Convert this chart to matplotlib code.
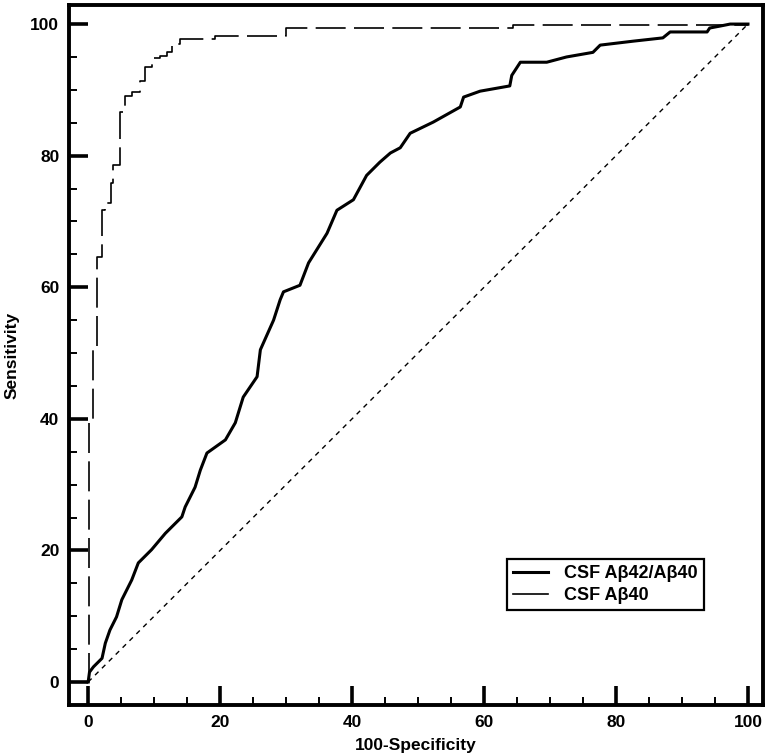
import matplotlib
matplotlib.use('Agg')
import matplotlib.pyplot as plt
from matplotlib.lines import Line2D
from matplotlib.ticker import MultipleLocator

plt.rcParams['font.family'] = ['Liberation Sans Narrow', 'Liberation Sans', 'DejaVu Sans']
plt.rcParams['font.weight'] = 'bold'

# CSF Abeta42/Abeta40 ROC (100-specificity, sensitivity)
ratio_fpr = [0, 0.2, 0.8, 2.1, 2.6, 3.3, 4.3, 5.1, 6.6, 7.6,
             9.6, 11.7, 14.2, 14.7, 16.2, 17.0, 18.0, 20.8, 22.3, 23.5,
             25.6, 26.1, 28.1, 29.1, 29.6, 32.1, 33.4, 36.2, 37.7, 40.2,
             42.2, 44.2, 45.8, 47.3, 48.8, 52.3, 56.4, 56.9, 59.4, 63.9,
             64.2, 65.5, 69.5, 72.5, 76.5, 77.6, 82.6, 87.1, 88.2, 93.8,
             94.2, 95.8, 97.3, 99.2, 100]
ratio_tpr = [0, 1.5, 2.3, 3.6, 5.9, 7.9, 9.9, 12.5, 15.5, 18.1,
             20.1, 22.6, 25.1, 26.6, 29.6, 32.2, 34.8, 36.8, 39.4, 43.3,
             46.4, 50.5, 55.0, 58.1, 59.3, 60.3, 63.7, 68.2, 71.7, 73.3,
             77.0, 79.0, 80.4, 81.2, 83.4, 85.1, 87.4, 88.9, 89.8, 90.6,
             92.2, 94.2, 94.2, 95.0, 95.7, 96.8, 97.4, 97.9, 98.8, 98.8,
             99.4, 99.7, 100, 100, 100]

# CSF Abeta40 ROC, step corners
ab40_fpr = [0, 0.15, 0.8, 1.4, 2.1, 2.6, 3.5, 3.8, 4.9, 5.6, 6.6,
            7.9, 8.6, 9.6, 10.9, 11.9, 12.7, 13.9, 19.2, 30.0, 64.4, 100]
ab40_tpr = [0, 40.0, 51.0, 64.6, 71.8, 72.8, 75.8, 78.6, 86.7, 89.0, 89.7,
            91.4, 93.5, 94.8, 95.1, 95.8, 97.0, 97.7, 98.2, 99.4, 99.8, 100]

ref_line = [0, 100]
labels = ['CSF A\u03b242/A\u03b240', 'CSF A\u03b240']

fig = plt.figure(figsize=(7.67, 7.55), dpi=100)
ax = fig.add_axes([0.090, 0.0662, 0.905, 0.9272])

ax.plot(ratio_fpr, ratio_tpr, color='black', lw=2.2)
ax.step(ab40_fpr, ab40_tpr, where='post', color='black', lw=1.2, dashes=(18, 5))
ax.plot(ref_line, ref_line, color='black', lw=1.0, dashes=(3.5, 3.5))

ax.set_xlim(-2.9, 102.3)
ax.set_ylim(-3.5, 102.9)

ax.xaxis.set_major_locator(MultipleLocator(20))
ax.xaxis.set_minor_locator(MultipleLocator(5))
ax.yaxis.set_major_locator(MultipleLocator(20))
ax.yaxis.set_minor_locator(MultipleLocator(5))
ax.tick_params(which='major', direction='in', length=14, width=2.6,
               labelsize=12.5, pad=7, colors='black')
ax.tick_params(which='minor', direction='in', length=6, width=1.4)

for s in ax.spines.values():
    s.set_linewidth(2.8)

ax.set_xlabel('100-Specificity', fontsize=12.5, fontweight='bold', labelpad=6)
ax.set_ylabel('Sensitivity', fontsize=12.5, fontweight='bold', labelpad=8)

# legend: the dashed curve shows as one short thin stroke
handles = [Line2D([0], [0], color='black', lw=2.2),
           Line2D([0], [0], color='black', lw=1.2)]
leg = ax.legend(handles, labels, loc='upper left', bbox_to_anchor=(0.631, 0.2086),
                borderaxespad=0, fancybox=False, edgecolor='black',
                fontsize=13, handlelength=1.9, handletextpad=0.9,
                borderpad=0.35, labelspacing=0.25, framealpha=1)
leg.get_frame().set_linewidth(1.6)

fig.savefig('out.png', dpi=100)
